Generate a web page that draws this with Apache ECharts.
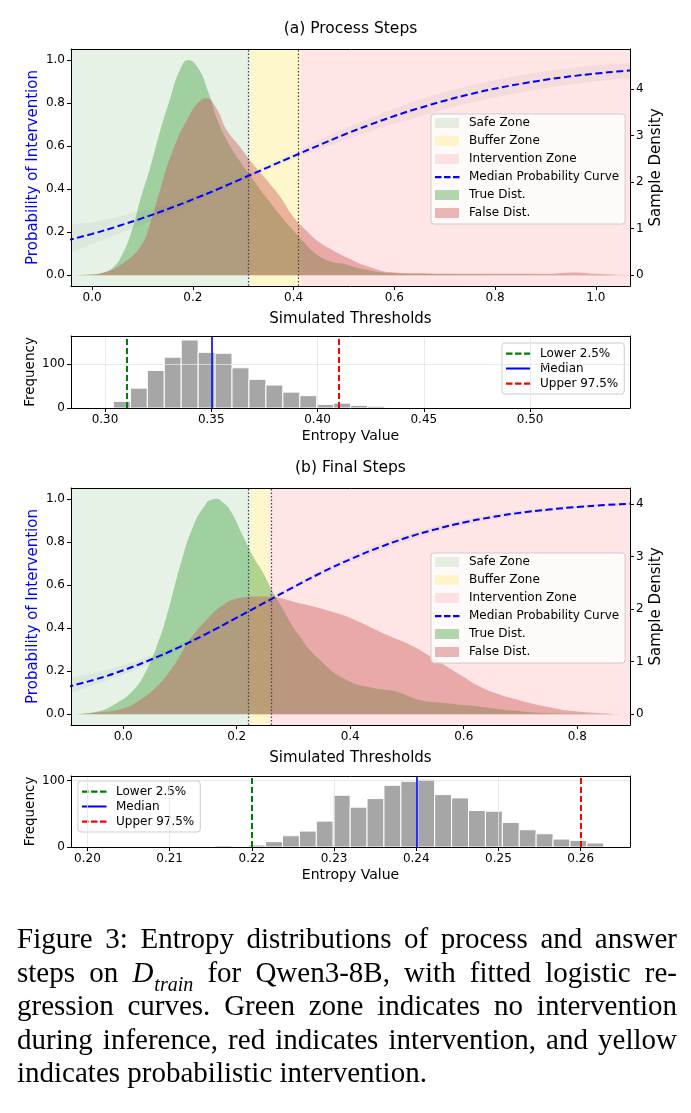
<!DOCTYPE html>
<html>
<head>
<meta charset="utf-8">
<title>Entropy distributions</title>
<script src="https://cdn.jsdelivr.net/npm/echarts@6/dist/echarts.min.js"></script>
<style>
  html, body { margin: 0; padding: 0; background: #fff; }
  #chart { width: 691px; height: 1113px; }
</style>
</head>
<body>
<div id="chart"></div>
<script>
// ---------- (a) Process Steps ----------
const probXA  = [-0.05, 0, 0.05, 0.1, 0.15, 0.2, 0.25, 0.3, 0.35, 0.4, 0.45, 0.5, 0.55, 0.6, 0.65, 0.7, 0.75, 0.8, 0.85, 0.9, 0.95, 1.0, 1.05, 1.1];
const medianA = [0.162, 0.192, 0.227, 0.265, 0.307, 0.352, 0.400, 0.451, 0.502, 0.553, 0.603, 0.652, 0.697, 0.739, 0.776, 0.810, 0.840, 0.866, 0.888, 0.907, 0.923, 0.936, 0.947, 0.957];
const bandLowA  = [0.11, 0.145, 0.19, 0.235, 0.285, 0.335, 0.388, 0.44, 0.49, 0.538, 0.583, 0.627, 0.667, 0.704, 0.736, 0.77, 0.8, 0.826, 0.848, 0.868, 0.885, 0.9, 0.912, 0.922];
const bandHighA = [0.225, 0.245, 0.27, 0.3, 0.33, 0.37, 0.412, 0.461, 0.514, 0.568, 0.623, 0.677, 0.727, 0.774, 0.816, 0.85, 0.88, 0.906, 0.928, 0.947, 0.962, 0.974, 0.982, 0.988];
const trueXA = [-0.042, 0, 0.02, 0.04, 0.06, 0.08, 0.095, 0.115, 0.134, 0.154, 0.174, 0.191, 0.21, 0.23, 0.25, 0.27, 0.29, 0.313, 0.347, 0.38, 0.413, 0.44, 0.472, 0.5, 0.538, 0.59, 0.65, 0.75, 0.9, 1.068];
const trueA  = [0, 0.01, 0.05, 0.15, 0.45, 1.0, 1.6, 2.3, 3.05, 3.76, 4.4, 4.62, 4.45, 3.95, 3.3, 2.85, 2.5, 2.15, 1.65, 1.2, 0.8, 0.5, 0.3, 0.24, 0.13, 0.05, 0.03, 0.02, 0.01, 0];
const falseXA = [-0.042, 0, 0.03, 0.06, 0.095, 0.115, 0.134, 0.161, 0.194, 0.212, 0.227, 0.247, 0.267, 0.293, 0.313, 0.346, 0.373, 0.399, 0.426, 0.452, 0.48, 0.51, 0.545, 0.6, 0.65, 0.7, 0.8, 0.9, 0.96, 1.0, 1.068];
const falseA  = [0, 0.02, 0.08, 0.25, 0.6, 1.1, 1.8, 2.7, 3.45, 3.72, 3.8, 3.58, 3.12, 2.76, 2.47, 2.05, 1.69, 1.26, 0.95, 0.7, 0.52, 0.36, 0.2, 0.06, 0.04, 0.03, 0.03, 0.03, 0.06, 0.03, 0];
const thrA = [0.3145, 0.4143];          // safe / buffer / intervention limits

// simulated thresholds (a)
const histStartA = 0.296, histBinA = 0.00797;
const histCountsA = [1, 15, 45, 85, 115, 154, 126, 124, 91, 65, 52, 36, 28, 8, 11, 6, 4, 1, 1, 0, 1, 0, 0, 1, 0, 0, 0, 0, 0, 1];
const ciA = [0.3147, 0.3488, 0.4141];   // lower 2.5%, median, upper 97.5%

// ---------- (b) Final Steps ----------
const probXB  = [-0.1, -0.05, 0, 0.05, 0.1, 0.15, 0.2, 0.25, 0.3, 0.35, 0.4, 0.45, 0.5, 0.55, 0.6, 0.65, 0.7, 0.75, 0.8, 0.85, 0.9];
const medianB = [0.126, 0.161, 0.204, 0.255, 0.313, 0.378, 0.448, 0.519, 0.590, 0.658, 0.719, 0.773, 0.820, 0.858, 0.890, 0.915, 0.935, 0.950, 0.962, 0.971, 0.978];
const bandLowB  = [0.1, 0.138, 0.184, 0.238, 0.3, 0.368, 0.441, 0.512, 0.58, 0.645, 0.703, 0.755, 0.802, 0.842, 0.876, 0.903, 0.925, 0.941, 0.954, 0.964, 0.972];
const bandHighB = [0.16, 0.19, 0.228, 0.274, 0.327, 0.389, 0.456, 0.527, 0.6, 0.671, 0.734, 0.79, 0.836, 0.873, 0.903, 0.927, 0.945, 0.959, 0.969, 0.977, 0.983];
const trueXB = [-0.092, -0.047, -0.012, 0.018, 0.041, 0.059, 0.0765, 0.1, 0.123, 0.147, 0.156, 0.1645, 0.174, 0.188, 0.2115, 0.229, 0.2467, 0.2615, 0.276, 0.311, 0.347, 0.394, 0.44, 0.482, 0.523, 0.57, 0.628, 0.687, 0.746, 0.8, 0.893];
const trueB  = [0, 0.05, 0.21, 0.46, 0.84, 1.29, 1.86, 2.81, 3.57, 4.02, 4.08, 4.10, 4.05, 3.89, 3.38, 3.0, 2.69, 2.37, 2.1, 1.48, 1.03, 0.65, 0.5, 0.43, 0.27, 0.21, 0.145, 0.07, 0.02, 0.01, 0];
const falseXB = [-0.092, -0.05, 0.0, 0.029, 0.059, 0.088, 0.1175, 0.147, 0.176, 0.2056, 0.235, 0.255, 0.276, 0.30, 0.335, 0.365, 0.394, 0.423, 0.452, 0.482, 0.511, 0.54, 0.57, 0.6, 0.628, 0.657, 0.687, 0.746, 0.805, 0.893];
const falseB  = [0, 0.03, 0.11, 0.27, 0.53, 0.91, 1.42, 1.80, 2.08, 2.21, 2.24, 2.24, 2.21, 2.14, 2.05, 1.96, 1.86, 1.72, 1.57, 1.43, 1.29, 1.11, 0.91, 0.71, 0.53, 0.4, 0.30, 0.145, 0.05, 0];
const thrB = [0.2245, 0.2567];

// simulated thresholds (b)
const histStartB = 0.2011, histBinB = 0.002057;
const histCountsB = [1, 0, 0, 0, 0, 0, 0, 2, 0, 3, 8, 17, 24, 39, 78, 60, 73, 93, 99, 102, 79, 74, 55, 54, 37, 26, 20, 12, 10, 6];
const ciB = [0.2245, 0.2395, 0.2567];

// tick labels
const probTicks = [0, 0.2, 0.4, 0.6, 0.8, 1.0];
const densTicks = [0, 1, 2, 3, 4];
const xTicksA = [0, 0.2, 0.4, 0.6, 0.8, 1.0];
const xTicksB = [0, 0.2, 0.4, 0.6, 0.8];
const histTicksA = [0.30, 0.35, 0.40, 0.45, 0.50];
const histTicksB = [0.20, 0.21, 0.22, 0.23, 0.24, 0.25, 0.26];
const freqTicks = [0, 100];

// ---------- styles ----------
const FONT = 'DejaVu Sans';
const SAFE = 'rgba(0,128,0,0.1)';
const BUFFER = 'rgba(255,215,0,0.2)';
const INTERV = 'rgba(255,0,0,0.1)';
const TRUE_FILL = 'rgba(0,128,0,0.3)';
const FALSE_FILL = 'rgba(200,80,80,0.4)';
const BAND = 'rgba(110,110,110,0.08)';

const rectIcon = 'path://M0,0h24v10h-24zM28.9,9.9h0.1v0.1h-0.1z';
const dashIcon = 'path://M0,0h0.1v0.1h-0.1zM0,4h6.5v2.2h-6.5zM9,4h6.5v2.2h-6.5zM18,4h6.5v2.2h-6.5zM28.9,9.9h0.1v0.1h-0.1z';
const solidIcon = 'path://M0,0h0.1v0.1h-0.1zM0,4h24.5v2h-24.5zM28.9,9.9h0.1v0.1h-0.1z';

const pts = (xs, ys) => xs.map((x, i) => [x, ys[i]]);

function frameAxis(gi, pos, min, max) {
  return {
    type: 'value', gridIndex: gi, position: pos, min: min, max: max, z: 5,
    axisLine: { show: true, onZero: false, lineStyle: { color: '#000', width: 1 } },
    axisTick: { show: false }, axisLabel: { show: false }, splitLine: { show: false }
  };
}
function tickAxis(gi, pos, min, max, ticks, digits, fs, extra) {
  return Object.assign({
    type: 'value', gridIndex: gi, position: pos, min: min, max: max, z: 5,
    nameMoveOverlap: false,
    axisLine: { show: true, onZero: false, lineStyle: { color: '#000', width: 1 } },
    axisTick: { show: true, length: 4, customValues: ticks, lineStyle: { color: '#000', width: 1 } },
    axisLabel: { customValues: ticks, formatter: v => v.toFixed(digits), fontSize: fs, fontFamily: FONT, color: '#000', margin: 6 },
    splitLine: { show: false }
  }, extra || {});
}

const xAxis = [], yAxis = [], series = [], legend = [];

function mainPanel(gi, d) {
  const xi = xAxis.length, yi = yAxis.length;
  xAxis.push(tickAxis(gi, 'bottom', d.xMin, d.xMax, d.xTicks, 1, 12, {
    name: 'Simulated Thresholds', nameLocation: 'middle', nameGap: 26,
    nameTextStyle: { fontSize: 15, fontFamily: FONT, color: '#000' }
  }));
  xAxis.push(frameAxis(gi, 'top', d.xMin, d.xMax));
  yAxis.push(tickAxis(gi, 'left', -0.05, 1.05, probTicks, 1, 12, {
    name: 'Probability of Intervention', nameLocation: 'middle', nameGap: 30,
    nameTextStyle: { fontSize: 15, fontFamily: FONT, color: '#0000ff' }
  }));
  yAxis.push(tickAxis(gi, 'right', d.dMin, d.dMax, densTicks, 0, 12, {
    name: 'Sample Density', nameLocation: 'middle', nameGap: 19,
    nameTextStyle: { fontSize: 15, fontFamily: FONT, color: '#000' }
  }));

  const zone = (name, color, from, to) => ({
    name: name, type: 'line', xAxisIndex: xi, yAxisIndex: yi, data: [], color: color, z: 1, silent: true,
    markArea: { silent: true, itemStyle: { color: color }, data: [[{ xAxis: from }, { xAxis: to }]] }
  });
  series.push(zone('Safe Zone', SAFE, d.xMin, d.thr[0]));
  series.push(zone('Buffer Zone', BUFFER, d.thr[0], d.thr[1]));
  series.push(zone('Intervention Zone', INTERV, d.thr[1], d.xMax));

  const dens = (name, xs, ys, color) => ({
    name: name, type: 'line', xAxisIndex: xi, yAxisIndex: yi + 1, data: pts(xs, ys),
    smooth: 0.5, showSymbol: false, symbol: 'none', color: color, z: 2, silent: true,
    lineStyle: { width: 0 }, areaStyle: { color: color, opacity: 1 }
  });
  series.push(dens('True Dist.', d.tx, d.tv, TRUE_FILL));
  series.push(dens('False Dist.', d.fx, d.fv, FALSE_FILL));

  // spread of the bootstrap curves, as one polygon placed with the axes' scales
  series.push({
    type: 'custom', xAxisIndex: xi, yAxisIndex: yi, z: 3, silent: true, clip: true,
    data: [[d.px[0], d.low[0]]],
    renderItem: function (params, api) {
      const upper = d.px.map((x, i) => api.coord([x, d.high[i]]));
      const lower = d.px.map((x, i) => api.coord([x, d.low[i]])).reverse();
      return {
        type: 'polygon',
        shape: { points: upper.concat(lower), smooth: 0.3 },
        style: { fill: BAND, stroke: null }
      };
    }
  });

  series.push({
    name: 'Median Probability Curve', type: 'line', xAxisIndex: xi, yAxisIndex: yi,
    data: pts(d.px, d.med), smooth: true, showSymbol: false, symbol: 'none', color: '#0000ff', z: 4, silent: true,
    lineStyle: { color: '#0000ff', width: 2, type: [7, 3.5] }
  });
  series.push({
    type: 'line', xAxisIndex: xi, yAxisIndex: yi, data: [], z: 5, silent: true,
    markLine: {
      silent: true, symbol: ['none', 'none'], label: { show: false },
      lineStyle: { color: '#444', width: 1.2, type: [1.5, 2] },
      data: [{ xAxis: d.thr[0] }, { xAxis: d.thr[1] }]
    }
  });

  legend.push({
    orient: 'vertical', left: d.legLeft, top: d.legTop, selectedMode: false,
    itemWidth: 29, itemHeight: 10, itemGap: 4,
    backgroundColor: 'rgba(255,255,255,0.8)', borderColor: '#cccccc', borderWidth: 1, borderRadius: 3,
    padding: [2, 6, 4, 4],
    textStyle: { fontSize: 12, fontFamily: FONT, color: '#000', lineHeight: 14 },
    data: [
      { name: 'Safe Zone', icon: rectIcon, itemStyle: { color: SAFE, borderWidth: 0 } },
      { name: 'Buffer Zone', icon: rectIcon, itemStyle: { color: BUFFER, borderWidth: 0 } },
      { name: 'Intervention Zone', icon: rectIcon, itemStyle: { color: INTERV, borderWidth: 0 } },
      { name: 'Median Probability Curve', icon: dashIcon, itemStyle: { color: '#0000ff', borderWidth: 0 } },
      { name: 'True Dist.', icon: rectIcon, itemStyle: { color: TRUE_FILL, borderWidth: 0 } },
      { name: 'False Dist.', icon: rectIcon, itemStyle: { color: FALSE_FILL, borderWidth: 0 } }
    ]
  });
}

function histPanel(gi, d) {
  const xi = xAxis.length, yi = yAxis.length;
  xAxis.push(tickAxis(gi, 'bottom', d.xMin, d.xMax, d.xTicks, 2, 12, {
    name: 'Entropy Value', nameLocation: 'middle', nameGap: 21,
    nameTextStyle: { fontSize: 14, fontFamily: FONT, color: '#000' }
  }));
  xAxis.push(frameAxis(gi, 'top', d.xMin, d.xMax));
  yAxis.push(tickAxis(gi, 'left', 0, d.yMax, freqTicks, 0, 12, {
    name: 'Frequency', nameLocation: 'middle', nameGap: 34,
    nameTextStyle: { fontSize: 13.5, fontFamily: FONT, color: '#000' }
  }));
  yAxis.push(frameAxis(gi, 'right', 0, d.yMax));

  // light grid
  series.push({
    type: 'line', xAxisIndex: xi, yAxisIndex: yi, data: [], z: 1, silent: true,
    markLine: {
      silent: true, symbol: ['none', 'none'], label: { show: false },
      lineStyle: { color: '#e4e4e4', width: 0.8, type: 'solid' },
      data: d.xTicks.map(v => ({ xAxis: v })).concat([{ yAxis: 100 }])
    }
  });
  series.push({
    type: 'custom', xAxisIndex: xi, yAxisIndex: yi, z: 2, silent: true,
    data: d.counts.map((c, i) => [d.start + i * d.bin, d.start + (i + 1) * d.bin, c]),
    encode: { x: [0, 1], y: 2 },
    renderItem: function (params, api) {
      if (!api.value(2)) return null;
      const p0 = api.coord([api.value(0), api.value(2)]);
      const p1 = api.coord([api.value(1), 0]);
      return {
        type: 'rect',
        shape: { x: p0[0], y: p0[1], width: p1[0] - p0[0], height: p1[1] - p0[1] },
        style: { fill: '#a6a6a6', stroke: '#fff', lineWidth: 1 }
      };
    }
  });
  const vline = (name, v, color, type, w) => ({
    name: name, type: 'line', xAxisIndex: xi, yAxisIndex: yi, data: [], color: color, z: 3, silent: true,
    markLine: {
      silent: true, symbol: ['none', 'none'], label: { show: false },
      lineStyle: { color: color, width: w, type: type }, data: [{ xAxis: v }]
    }
  });
  series.push(vline('Lower 2.5%', d.ci[0], '#008000', [6, 3], 2));
  series.push(vline('Median', d.ci[1], '#0000ff', 'solid', 1.6));
  series.push(vline('Upper 97.5%', d.ci[2], '#ff0000', [6, 3], 2));

  legend.push({
    orient: 'vertical', left: d.legLeft, top: d.legTop, selectedMode: false,
    itemWidth: 29, itemHeight: 10, itemGap: 2,
    backgroundColor: 'rgba(255,255,255,0.8)', borderColor: '#cccccc', borderWidth: 1, borderRadius: 3,
    padding: [4, 6, 4, 4],
    textStyle: { fontSize: 12, fontFamily: FONT, color: '#000', lineHeight: 13 },
    data: [
      { name: 'Lower 2.5%', icon: dashIcon, itemStyle: { color: '#008000', borderWidth: 0 } },
      { name: 'Median', icon: solidIcon, itemStyle: { color: '#0000ff', borderWidth: 0 } },
      { name: 'Upper 97.5%', icon: dashIcon, itemStyle: { color: '#ff0000', borderWidth: 0 } }
    ]
  });
}

const grid = [
  { left: 71, top: 49, width: 559, height: 237 },
  { left: 71, top: 336, width: 559, height: 72 },
  { left: 71, top: 488, width: 559, height: 237 },
  { left: 71, top: 776, width: 559, height: 71 }
];

mainPanel(0, {
  xMin: -0.042, xMax: 1.068, xTicks: xTicksA, dMin: -0.231, dMax: 4.855, thr: thrA,
  px: probXA, med: medianA, low: bandLowA, high: bandHighA,
  tx: trueXA, tv: trueA, fx: falseXA, fv: falseA, legLeft: 431, legTop: 114
});
histPanel(1, {
  xMin: 0.284, xMax: 0.547, xTicks: histTicksA, yMax: 163,
  start: histStartA, bin: histBinA, counts: histCountsA, ci: ciA, legLeft: 502, legTop: 343
});
mainPanel(2, {
  xMin: -0.092, xMax: 0.893, xTicks: xTicksB, dMin: -0.204, dMax: 4.305, thr: thrB,
  px: probXB, med: medianB, low: bandLowB, high: bandHighB,
  tx: trueXB, tv: trueB, fx: falseXB, fv: falseB, legLeft: 431, legTop: 553
});
histPanel(3, {
  xMin: 0.198, xMax: 0.266, xTicks: histTicksB, yMax: 107,
  start: histStartB, bin: histBinB, counts: histCountsB, ci: ciB, legLeft: 78, legTop: 781
});

// ---------- caption (justified by hand) ----------
const CAP_SIZE = 29;
const CAP_FONT = CAP_SIZE + 'px "Liberation Serif"';
const CAP_IT = 'italic ' + CAP_SIZE + 'px "Liberation Serif"';
const SUB_FONT = 'italic 20px "Liberation Serif"';
const capLines = [
  { words: ['Figure', '3:', 'Entropy', 'distributions', 'of', 'process', 'and', 'answer'], justify: true },
  { words: ['steps', 'on', '#MATH#', 'for', 'Qwen3-8B,', 'with', 'fitted', 'logistic', 're-'], justify: true },
  { words: ['gression', 'curves.', 'Green', 'zone', 'indicates', 'no', 'intervention'], justify: true },
  { words: ['during', 'inference,', 'red', 'indicates', 'intervention,', 'and', 'yellow'], justify: true },
  { words: ['indicates', 'probabilistic', 'intervention.'], justify: false }
];
const capBase = [955, 989, 1022, 1056, 1089];
const capLeft = 17, capRight = 677;
const mctx = document.createElement('canvas').getContext('2d');
const measure = (font, s) => { mctx.font = font; return mctx.measureText(s).width; };
const graphic = [];
capLines.forEach((ln, li) => {
  const widths = ln.words.map(w => w === '#MATH#'
    ? measure(CAP_IT, 'D') + 1 + measure(SUB_FONT, 'train')
    : measure(CAP_FONT, w));
  const total = widths.reduce((a, b) => a + b, 0);
  const gap = ln.justify ? (capRight - capLeft - total) / (ln.words.length - 1) : measure(CAP_FONT, ' ');
  let x = capLeft;
  const y = capBase[li];
  ln.words.forEach((w, i) => {
    if (w === '#MATH#') {
      graphic.push({ type: 'text', x: x, y: y, style: { text: 'D', font: CAP_IT, fill: '#000', verticalAlign: 'bottom' } });
      const dw = measure(CAP_IT, 'D') + 1;
      graphic.push({ type: 'text', x: x + dw, y: y + 7, style: { text: 'train', font: SUB_FONT, fill: '#000', verticalAlign: 'bottom' } });
    } else {
      graphic.push({ type: 'text', x: x, y: y, style: { text: w, font: CAP_FONT, fill: '#000', verticalAlign: 'bottom' } });
    }
    x += widths[i] + gap;
  });
});

// panel titles
graphic.push({ type: 'text', x: 350.5, y: 29, style: { text: '(a) Process Steps', font: '15.5px "DejaVu Sans"', fill: '#000', align: 'center', verticalAlign: 'middle' } });
graphic.push({ type: 'text', x: 350.5, y: 468, style: { text: '(b) Final Steps', font: '15.5px "DejaVu Sans"', fill: '#000', align: 'center', verticalAlign: 'middle' } });

const myChart = echarts.init(document.getElementById('chart'));
myChart.setOption({
  animation: false,
  backgroundColor: '#fff',
  grid: grid,
  xAxis: xAxis,
  yAxis: yAxis,
  legend: legend,
  series: series,
  graphic: graphic
});
</script>
</body>
</html>
